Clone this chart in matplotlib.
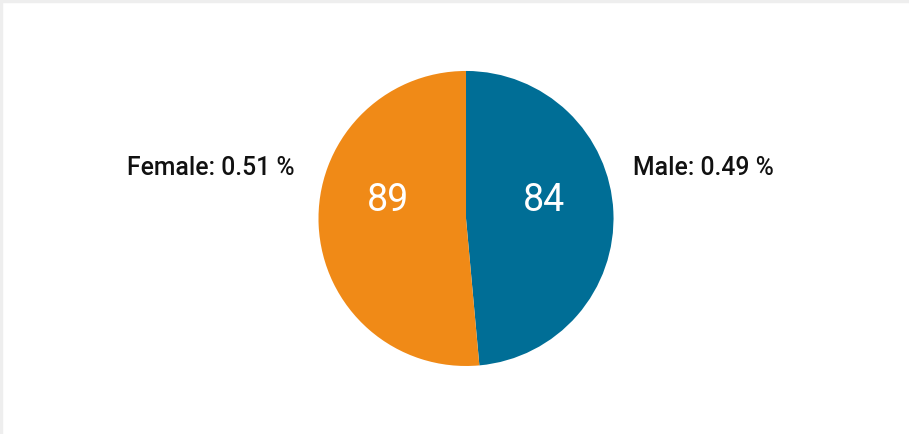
import matplotlib
matplotlib.use("Agg")
import matplotlib.pyplot as plt
from matplotlib.patches import Rectangle

categories = ["Male", "Female"]
counts = [84, 89]
shares = [0.49, 0.51]
colors = ["#006E96", "#F08A17"]


def main() -> None:
    plt.rcParams["font.family"] = ["Roboto", "DejaVu Sans"]
    fig = plt.figure(figsize=(9.09, 4.34), dpi=100)
    ax = fig.add_axes([0, 0, 1, 1])

    wedges, _ = ax.pie(counts, colors=colors, startangle=90, counterclock=False,
                       radius=1.0, wedgeprops={"linewidth": 0})
    ax.set_aspect("equal")
    ax.set_xlim(-3.159, 3.003)
    ax.set_ylim(-1.461, 1.481)
    ax.axis("off")

    # count inside each slice, share label outside
    for wedge, name, n, share in zip(wedges, categories, counts, shares):
        mid = (wedge.theta1 + wedge.theta2) / 2 % 360
        side = 1 if mid < 90 or mid > 270 else -1
        ax.text(0.53 * side, 0.12, f"{n}", color="white", fontsize=27,
                ha="center", va="center")
        ax.text((1.13 if side > 0 else 1.165) * side, 0.34, f"{name}: {share:.2f} %",
                color="#111111", fontsize=17.8, fontweight="medium",
                ha="left" if side > 0 else "right", va="center")

    # light frame on top and left edges
    fig.patches.append(Rectangle((0, 1 - 2 / 434), 1, 2 / 434, transform=fig.transFigure,
                                 color="#EEEEEE", zorder=0))
    fig.patches.append(Rectangle((0, 0), 1.5 / 909, 1, transform=fig.transFigure,
                                 color="#EEEEEE", zorder=0))

    fig.savefig("out.png", dpi=100)
    plt.close(fig)


if __name__ == "__main__":
    main()
